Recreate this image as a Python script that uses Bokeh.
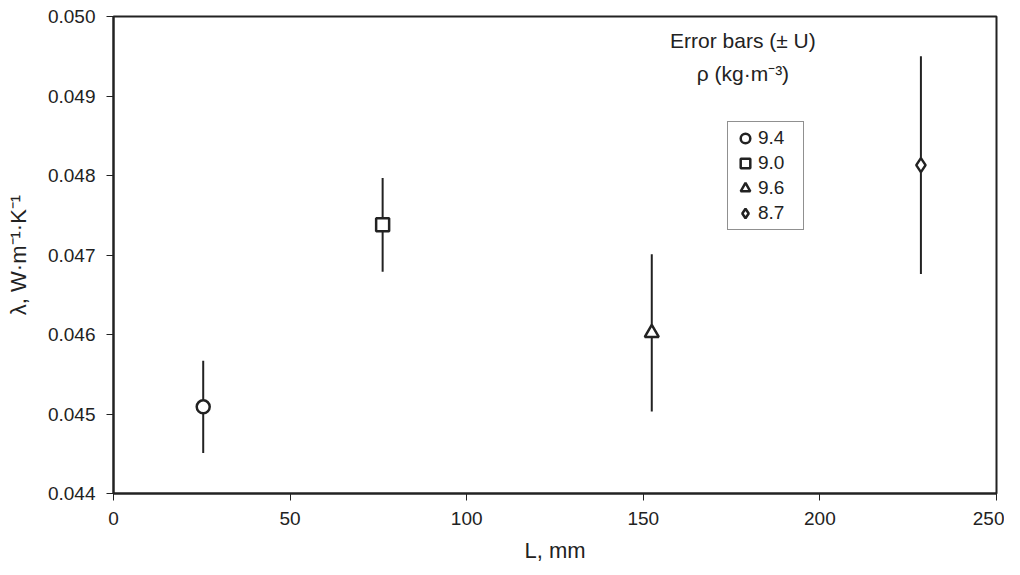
from bokeh.plotting import figure
from bokeh.models import (ColumnDataSource, Range1d, Legend, LegendItem, Label,
                          FixedTicker, CustomJSTickFormatter)
from bokeh.embed import file_html
from bokeh.resources import INLINE

# Data
lengths_mm = [25.4, 76.2, 152.4, 228.6]
conductivity = [0.04509, 0.04738, 0.04602, 0.04813]
uncertainty = [0.00058, 0.00059, 0.00099, 0.00137]
densities = ["9.4", "9.0", "9.6", "8.7"]
markers = ["circle", "square", "triangle", "diamond"]
x_ticks = [0, 50, 100, 150, 200, 250]
y_ticks = [0.044, 0.045, 0.046, 0.047, 0.048, 0.049, 0.050]

lo = [v - u for v, u in zip(conductivity, uncertainty)]
hi = [v + u for v, u in zip(conductivity, uncertainty)]

src = ColumnDataSource(dict(x=lengths_mm, y=conductivity, lo=lo, hi=hi,
                            rho=densities, marker=markers,
                            size=[13, 13, 14, 14]))

FONT = "Liberation Sans"
INK = "#222222"

p = figure(width=1004, height=567, output_backend="svg", toolbar_location=None,
           x_range=Range1d(0, 250), y_range=Range1d(0.044, 0.050),
           min_border_left=113, min_border_right=8, min_border_top=16,
           min_border_bottom=74)
p.grid.visible = False
p.outline_line_color = INK
p.outline_line_width = 2
p.background_fill_color = "white"
p.border_fill_color = "white"

p.segment(x0="x", y0="lo", x1="x", y1="hi", source=src, line_color=INK, line_width=2)
r = p.scatter(x="x", y="y", marker="marker", size="size", source=src,
              fill_color="white", line_color=INK, line_width=2.5)

for ax in (p.xaxis[0], p.yaxis[0]):
    ax.axis_line_color = INK
    ax.axis_line_width = 2
    ax.major_tick_line_color = INK
    ax.major_tick_line_width = 1
    ax.major_tick_out = 7
    ax.major_tick_in = 0
    ax.minor_tick_line_color = None
    ax.major_label_text_font = FONT
    ax.major_label_text_font_size = "19px"
    ax.major_label_text_color = INK
    ax.axis_label_text_font = FONT
    ax.axis_label_text_font_size = "22px"
    ax.axis_label_text_font_style = "normal"
    ax.axis_label_text_color = INK

p.xaxis.ticker = FixedTicker(ticks=x_ticks)
p.yaxis.ticker = FixedTicker(ticks=y_ticks)
p.yaxis.formatter = CustomJSTickFormatter(code="return tick.toFixed(3);")
p.xaxis.axis_label = "L, mm"
p.yaxis.axis_label = "λ, W·m⁻¹·K⁻¹"
p.xaxis.major_label_standoff = 11
p.yaxis.major_label_standoff = 11
p.xaxis.axis_label_standoff = 10
p.yaxis.axis_label_standoff = 14

items = [LegendItem(label=d, renderers=[r], index=i) for i, d in enumerate(densities)]
legend = Legend(items=items, location=(614, 263), border_line_color=INK,
                border_line_width=1, background_fill_color="white",
                label_text_font=FONT, label_text_font_size="19px",
                label_text_color=INK, glyph_width=26, glyph_height=24,
                label_standoff=0, spacing=1, padding=4, margin=0,
                label_height=24, label_width=41, label_text_line_height=1.0)
p.add_layout(legend, "center")

for txt, yy in [("Error bars (± U)", 0.04970), ("ρ (kg·m⁻³)", 0.049283)]:
    p.add_layout(Label(x=178.2, y=yy, text=txt, text_align="center",
                       text_baseline="middle", text_font=FONT,
                       text_font_size="21px", text_color=INK))

open("out.html", "w").write(file_html(p, INLINE))
